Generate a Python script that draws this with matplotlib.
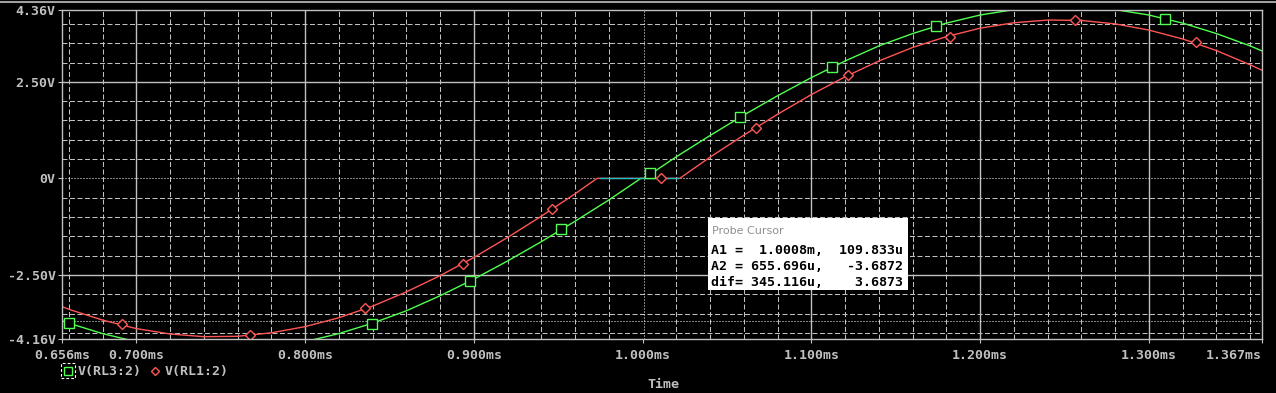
import matplotlib
matplotlib.use('Agg')
import matplotlib.pyplot as plt
from matplotlib.lines import Line2D
from matplotlib.patches import Rectangle
from matplotlib.ticker import MultipleLocator

plt.rcParams['lines.scale_dashes'] = False

# V(RL3:2) trace, time in ms
t_green = [0.656, 0.66, 0.68, 0.70, 0.72, 0.74, 0.76, 0.78, 0.80, 0.82, 0.84,
           0.86, 0.88, 0.90, 0.92, 0.94, 0.96, 0.98, 0.999, 1.001, 1.02, 1.04,
           1.06, 1.08, 1.10, 1.12, 1.14, 1.16, 1.18, 1.20, 1.22, 1.24, 1.26,
           1.28, 1.30, 1.32, 1.34, 1.36, 1.367]
v_green = [-3.69, -3.75, -4.02, -4.23, -4.37, -4.44, -4.44, -4.37, -4.23, -4.02,
           -3.75, -3.43, -3.04, -2.61, -2.14, -1.64, -1.11, -0.56, 0.0, 0.0,
           0.56, 1.11, 1.64, 2.14, 2.61, 3.04, 3.43, 3.75, 4.02, 4.23, 4.37,
           4.44, 4.44, 4.37, 4.23, 4.02, 3.75, 3.43, 3.30]

# V(RL1:2) trace
t_red = [0.656, 0.66, 0.68, 0.70, 0.72, 0.74, 0.76, 0.78, 0.80, 0.82, 0.84,
         0.86, 0.88, 0.90, 0.92, 0.94, 0.96, 0.973, 1.022, 1.04, 1.06, 1.08,
         1.10, 1.12, 1.14, 1.16, 1.18, 1.20, 1.22, 1.24, 1.26, 1.28, 1.30,
         1.32, 1.34, 1.36, 1.367]
v_red = [-3.32, -3.39, -3.67, -3.89, -4.03, -4.10, -4.09, -4.00, -3.84, -3.61,
         -3.31, -2.94, -2.52, -2.05, -1.53, -0.98, -0.40, 0.0, 0.0, 0.55, 1.12,
         1.66, 2.17, 2.63, 3.04, 3.39, 3.67, 3.89, 4.03, 4.10, 4.09, 4.00, 3.84,
         3.61, 3.31, 2.94, 2.80]

# visible trace markers
t_green_mk = [0.6601, 0.8394, 0.8980, 0.9519, 1.0045, 1.0578, 1.1122, 1.1738, 1.3098]
v_green_mk = [-3.75, -3.76, -2.66, -1.32, 0.13, 1.58, 2.88, 3.95, 4.13]
t_red_mk = [0.6915, 0.7672, 0.8353, 0.8933, 0.9465, 1.0110, 1.0672, 1.1217,
            1.1820, 1.2560, 1.3276]
v_red_mk = [-3.77, -4.06, -3.36, -2.21, -0.79, 0.0, 1.31, 2.67, 3.67, 4.09, 3.53]

# overlap segment where both sit on 0 V
t_zero = [0.975, 1.021]
v_zero = [0.0, 0.0]

# probe cursors
cursor_a1 = (1.0008, 109.833e-6)
cursor_a2 = (0.655696, -3.6872)

x_ticks = [0.656, 0.7, 0.8, 0.9, 1.0, 1.1, 1.2, 1.3, 1.367]
x_labels = ['0.656ms', '0.700ms', '0.800ms', '0.900ms', '1.000ms', '1.100ms',
            '1.200ms', '1.300ms', '1.367ms']
y_ticks = [-4.16, -2.5, 0.0, 2.5, 4.36]
y_labels = ['-4.16V', '-2.50V', '0V', '2.50V', '4.36V']

GRAY = '#c0c0c0'
GREEN = '#50ff50'
RED = '#ff5555'
W, H = 1276, 393

fig = plt.figure(figsize=(W / 100, H / 100), dpi=100, facecolor='black')
ax = fig.add_axes([62 / W, 54 / H, 1200 / W, 329 / H], facecolor='black')
ax.set_xlim(0.656, 1.367)
ax.set_ylim(-4.16, 4.36)

mono = dict(family='DejaVu Sans Mono', weight='bold', size=9.5)

ax.set_xticks(x_ticks)
ax.set_xticklabels(x_labels, fontdict=mono)
ax.get_xticklabels()[-1].set_ha('right')
ax.set_yticks(y_ticks)
ax.set_yticklabels(y_labels, fontdict=mono)
ax.xaxis.set_minor_locator(MultipleLocator(0.02))
ax.yaxis.set_minor_locator(MultipleLocator(0.5))
ax.tick_params(which='major', colors=GRAY, length=3, width=0.8)
ax.tick_params(axis='x', pad=4)
ax.tick_params(axis='y', pad=1.5)
ax.tick_params(which='minor', length=0)
ax.grid(which='minor', color=GRAY, lw=0.75, ls=(0, (3.6, 1.8)))
for s in ax.spines.values():
    s.set_color(GRAY)
    s.set_linewidth(1)

for x in [0.7, 0.8, 0.9, 1.1, 1.2, 1.3]:
    ax.axvline(x, color=GRAY, lw=1)
for y in [-2.5, 2.5]:
    ax.axhline(y, color=GRAY, lw=1)

dots = (0, (0.72, 1.44))
ax.axhline(cursor_a1[1], color='white', lw=0.75, ls=dots)
ax.axvline(cursor_a1[0], color='white', lw=0.75, ls=dots)
ax.axhline(cursor_a2[1], color='white', lw=0.75, ls=dots)

ax.plot(t_green, v_green, color=GREEN, lw=1)
ax.plot(t_red, v_red, color=RED, lw=1)
ax.plot(t_zero, v_zero, color='#20c0c0', lw=1)
ax.plot(t_green_mk, v_green_mk, ls='none', marker='s', ms=7, mfc='black',
        mec=GREEN, mew=1)
ax.plot(t_red_mk, v_red_mk, ls='none', marker='D', ms=5, mfc='black',
        mec=RED, mew=1)

# probe cursor readout box
box_x0, box_y0, box_x1, box_y1 = 708, 218, 908, 290
fig.add_artist(Rectangle((box_x0 / W, 1 - box_y1 / H), (box_x1 - box_x0) / W,
                         (box_y1 - box_y0) / H, transform=fig.transFigure,
                         facecolor='white', edgecolor='none'))
fig.text(712 / W, 1 - 231 / H, 'Probe Cursor', color='#909090',
         family='DejaVu Sans', size=8, va='center')
rows = ['A1 =  1.0008m,  109.833u',
        'A2 = 655.696u,   -3.6872',
        'dif= 345.116u,    3.6873']
for i, row in enumerate(rows):
    fig.text(711 / W, 1 - (250 + 16 * i) / H, row, color='black', va='center',
             **mono)

# legend under the plot
fig.add_artist(Rectangle((61 / W, 1 - 378 / H), 14 / W, 15 / H,
                         transform=fig.transFigure, facecolor='none',
                         edgecolor='white', lw=0.8, ls=(0, (2, 1.5))))
fig.add_artist(Line2D([68 / W], [1 - 371 / H], transform=fig.transFigure,
                      marker='s', ms=6, mfc='black', mec=GREEN, mew=1))
fig.text(78 / W, 1 - 371 / H, 'V(RL3:2)', color=GRAY, va='center', **mono)
fig.add_artist(Line2D([155 / W], [1 - 371 / H], transform=fig.transFigure,
                      marker='D', ms=4.5, mfc='black', mec=RED, mew=1))
fig.text(165 / W, 1 - 371 / H, 'V(RL1:2)', color=GRAY, va='center', **mono)
fig.text(663 / W, 1 - 384 / H, 'Time', color=GRAY, ha='center', va='center',
         **mono)

# window frame bits
fig.add_artist(Line2D([0, 1], [1 - 1.5 / H] * 2, transform=fig.transFigure,
                      color='#a0a0a0', lw=1.5))

fig.savefig('out.png', dpi=100, facecolor='black')
